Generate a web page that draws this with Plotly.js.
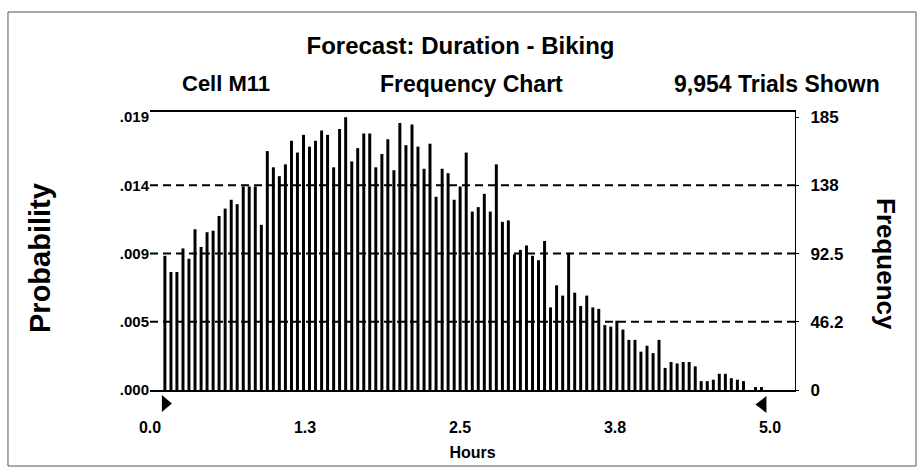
<!DOCTYPE html>
<html><head><meta charset="utf-8">
<script src="https://cdn.plot.ly/plotly-3.0.1.min.js"></script>
<style>html,body{margin:0;padding:0;background:#fff}#chart{width:921px;height:474px}</style>
</head><body><div id="chart"></div>
<script>
// Bin centers (hours) of the 100 frequency groups
const binCenters = [0.120,0.169,0.217,0.266,0.314,0.363,0.412,0.460,0.509,0.557,
0.606,0.655,0.703,0.752,0.800,0.849,0.898,0.946,0.995,1.043,
1.092,1.141,1.189,1.238,1.286,1.335,1.384,1.432,1.481,1.529,
1.578,1.627,1.675,1.724,1.772,1.821,1.870,1.918,1.967,2.015,
2.064,2.113,2.161,2.210,2.258,2.307,2.356,2.404,2.453,2.501,
2.550,2.599,2.647,2.696,2.744,2.793,2.842,2.890,2.939,2.987,
3.036,3.085,3.133,3.182,3.230,3.279,3.328,3.376,3.425,3.473,
3.522,3.571,3.619,3.668,3.716,3.765,3.814,3.862,3.911,3.959,
4.008,4.057,4.105,4.154,4.202,4.251,4.300,4.348,4.397,4.445,
4.494,4.543,4.591,4.640,4.688,4.737,4.786,4.834,4.883,4.931];
// Frequency (count of trials) per group
const frequency = [91,80,80,96,89,109,97,107,108,118,
123,129,126,138,138,138,112,162,151,145,
153,169,161,173,165,169,176,173,151,177,
185,155,164,174,174,151,160,170,149,181,
166,180,165,150,167,131,150,147,129,138,
161,121,124,133,121,153,114,115,92,95,
98,91,88,101,56,71,64,93,66,57,
64,56,55,44,43,47,41,34,34,26,
30,25,34,15,19,18,19,19,16,6,
6,7,11,11,8,7,6,0,2,2];
const trials = 9954;
const freqTicks = [0, 46.25, 92.5, 138.75, 185];
const freqTickText = ['0', '46.2', '92.5', '138', '185'];
const gridLevels = [46.25, 92.5, 138.75];
const hourTicks = [0, 1.25, 2.5, 3.75, 5];
const hourTickText = ['0.0', '1.3', '2.5', '3.8', '5.0'];
const freqMax = 188.5;

const probTicks = freqTicks.map(v => v / trials);
const probTickText = probTicks.map(v => v.toFixed(3).replace(/^0/, ''));

const FONT = '"Liberation Sans", Arial, Helvetica, sans-serif';

const shapes = gridLevels.map(v => ({
  type: 'line', xref: 'paper', x0: 0, x1: 1, yref: 'y', y0: v, y1: v,
  line: {color: '#000', width: 2, dash: '8px,5px'}, layer: 'below'
}));
// certainty grabbers (min / max markers)
shapes.push({type: 'path', xref: 'x', xsizemode: 'pixel', xanchor: binCenters[0],
  yref: 'paper', ysizemode: 'pixel', yanchor: 0,
  path: 'M -3 -5 L -3 -22 L 7 -13.5 Z', fillcolor: '#000', line: {width: 0}});
shapes.push({type: 'path', xref: 'x', xsizemode: 'pixel', xanchor: binCenters[binCenters.length - 1],
  yref: 'paper', ysizemode: 'pixel', yanchor: 0,
  path: 'M 5 -6 L 5 -23 L -6 -14.5 Z', fillcolor: '#000', line: {width: 0}});
// outer frame
shapes.push({type: 'rect', xref: 'paper', yref: 'paper', x0: -0.2202, x1: 1.1876, y0: -0.2734, y1: 1.3597,
  line: {color: '#555', width: 1}});

const data = [
  {type: 'bar', x: binCenters, y: frequency, width: 0.024,
   marker: {color: '#000', line: {width: 0}}, hoverinfo: 'skip'},
  // probability view of the same counts (left axis), drawn invisibly
  {type: 'scatter', mode: 'markers', x: binCenters, y: frequency.map(v => v / trials), yaxis: 'y2',
   marker: {opacity: 0, size: 1}, hoverinfo: 'skip', showlegend: false}
];

const layout = {
  width: 921, height: 474,
  margin: {l: 150, r: 126, t: 112, b: 84},
  paper_bgcolor: '#fff', plot_bgcolor: '#fff',
  font: {family: FONT, color: '#000', size: 14, weight: 'bold'},
  showlegend: false,
  title: {text: 'Forecast: Duration - Biking', x: 0.5, xref: 'container', xanchor: 'center',
          y: 1 - 46 / 474, yref: 'container', yanchor: 'middle',
          font: {family: FONT, size: 24, weight: 'bold', color: '#000'}},
  xaxis: {range: [0, 5.2016], tickvals: hourTicks, ticktext: hourTickText, ticks: '',
          showgrid: false, zeroline: false, showline: true, mirror: true, linecolor: '#000', linewidth: 2,
          tickfont: {family: FONT, size: 16, weight: 'bold'}, ticklabelstandoff: 22,
          title: {text: 'Hours', standoff: 12, font: {family: FONT, size: 16, weight: 'bold'}}},
  yaxis: {side: 'right', range: [0, freqMax], tickvals: freqTicks, ticktext: freqTickText,
          ticks: 'outside', ticklen: 3, tickcolor: '#000', showgrid: false, zeroline: false,
          showline: true, linecolor: '#000', linewidth: 1,
          tickfont: {family: FONT, size: 17, weight: 'bold'}, ticklabelstandoff: 8},
  yaxis2: {overlaying: 'y', side: 'left', range: [0, freqMax / trials], tickvals: probTicks, ticktext: probTickText,
           ticks: '', showgrid: false, zeroline: false, showline: false,
           tickfont: {family: FONT, size: 15, weight: 'bold'}},
  shapes: shapes,
  annotations: [
    {text: 'Cell M11', xref: 'paper', yref: 'paper', x: (226 - 150) / 645, y: (390 - 84) / 278,
     xanchor: 'center', yanchor: 'middle', showarrow: false, font: {family: FONT, size: 22, weight: 'bold'}},
    {text: 'Frequency Chart', xref: 'paper', yref: 'paper', x: (471 - 150) / 645, y: (390 - 84) / 278,
     xanchor: 'center', yanchor: 'middle', showarrow: false, font: {family: FONT, size: 23, weight: 'bold'}},
    {text: '9,954 Trials Shown', xref: 'paper', yref: 'paper', x: (777 - 150) / 645, y: (390 - 84) / 278,
     xanchor: 'center', yanchor: 'middle', showarrow: false, font: {family: FONT, size: 23, weight: 'bold'}},
    {text: 'Probability', xref: 'paper', yref: 'paper', x: (40 - 150) / 645, y: (390 - 258) / 278,
     xanchor: 'center', yanchor: 'middle', textangle: -90, showarrow: false, font: {family: FONT, size: 29, weight: 'bold'}},
    {text: 'Frequency', xref: 'paper', yref: 'paper', x: (886 - 150) / 645, y: (390 - 264) / 278,
     xanchor: 'center', yanchor: 'middle', textangle: 90, showarrow: false, font: {family: FONT, size: 26, weight: 'bold'}}
  ]
};

Plotly.newPlot('chart', data, layout, {displayModeBar: false, staticPlot: true});
</script>
</body></html>
